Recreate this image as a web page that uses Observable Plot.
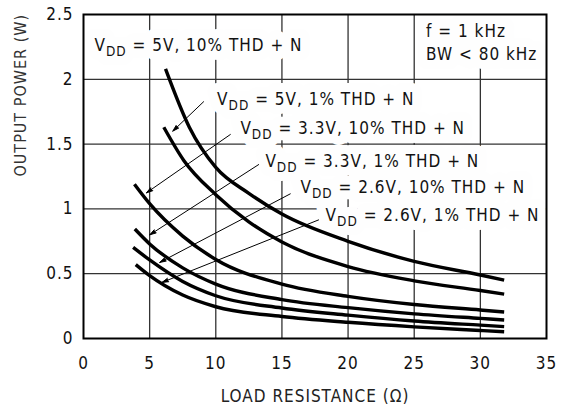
<!DOCTYPE html>
<html>
<head>
<meta charset="utf-8">
<script src="https://cdn.jsdelivr.net/npm/d3@7"></script>
<script src="https://cdn.jsdelivr.net/npm/@observablehq/plot@0.6"></script>
<style>
  body { margin: 0; background: #fff; }
</style>
</head>
<body>
<div id="chart"></div>
<script>
// ---- data ----
const seriesNames = ["5V 10%", "5V 1%", "3.3V 10%", "3.3V 1%", "2.6V 10%", "2.6V 1%"];
const loadA  = [6.2, 8, 10, 12.5, 15, 20, 25, 30, 31.8];
const powerA = [2.08, 1.63, 1.32, 1.12, 0.96, 0.75, 0.595, 0.49, 0.45];
const loadB  = [6.07, 7.58, 10, 12.5, 15, 20, 25, 30, 31.8];
const powerB = [1.63, 1.374, 1.11, 0.9, 0.745, 0.555, 0.445, 0.37, 0.342];
const loadC  = [3.85, 5, 7.5, 10, 15, 20, 25, 30, 31.8];
const powerC = [1.19, 1.04, 0.79, 0.61, 0.42, 0.325, 0.262, 0.22, 0.205];
const loadD  = [3.88, 5, 7.5, 10, 15, 20, 25, 30, 31.8];
const powerD = [0.845, 0.73, 0.545, 0.42, 0.30, 0.238, 0.19, 0.155, 0.143];
const loadE  = [3.75, 5, 7.5, 10, 15, 20, 25, 30, 31.8];
const powerE = [0.703, 0.606, 0.44, 0.33, 0.235, 0.18, 0.135, 0.103, 0.092];
const loadF  = [3.95, 5, 7.5, 10, 15, 20, 25, 30, 31.8];
const powerF = [0.57, 0.485, 0.335, 0.245, 0.17, 0.125, 0.09, 0.062, 0.052];

const xTicks = [0, 5, 10, 15, 20, 25, 30, 35];
const yTicks = [0, 0.5, 1, 1.5, 2, 2.5];
const xGrid = [5, 10, 15, 20, 25, 30];
const yGrid = [0.5, 1, 1.5, 2];
const xLabel = "LOAD RESISTANCE (Ω)";
const yLabel = "OUTPUT POWER (W)";

// curve labels (anchored at start / baseline, data units)
const labelText = [
  "VDD = 5V, 10% THD + N",
  "VDD = 5V, 1% THD + N",
  "VDD = 3.3V, 10% THD + N",
  "VDD = 3.3V, 1% THD + N",
  "VDD = 2.6V, 10% THD + N",
  "VDD = 2.6V, 1% THD + N"
];
const labelX = [0.83, 10.1, 11.86, 13.75, 16.4, 18.3];
const labelY = [2.22, 1.80, 1.58, 1.32, 1.12, 0.91];

// pointer arrows from labels to curves
const arrowX1 = [9.08, 11.1, 13.24, 15.63, 17.77];
const arrowY1 = [1.827, 1.574, 1.342, 1.116, 0.915];
const arrowX2 = [6.75, 4.76, 5.01, 5.76, 5.94];
const arrowY2 = [1.60, 1.124, 0.80, 0.587, 0.433];

// conditions note
const noteText = ["f = 1 kHz\nBW < 80 kHz"];
const noteX = [25.9];
const noteY = [2.146];

// ---- build table ----
const loads = [loadA, loadB, loadC, loadD, loadE, loadF];
const powers = [powerA, powerB, powerC, powerD, powerE, powerF];
const rows = seriesNames.flatMap((s, k) =>
  loads[k].map((r, i) => ({series: s, load: r, power: powers[k][i]})));
const labels = labelText.map((t, i) => ({text: t, x: labelX[i], y: labelY[i]}));

const FONT = "'DejaVu Sans Condensed', 'DejaVu Sans', sans-serif";
const INK = "#111";
const HALO = "#fefefe";

const plot = Plot.plot({
  width: 561, height: 408,
  marginLeft: 83, marginRight: 15, marginTop: 14, marginBottom: 70,
  style: {fontFamily: FONT, fontSize: "17px", letterSpacing: "1px", color: INK, background: "#fff"},
  x: {domain: [0, 35]},
  y: {domain: [0, 2.5]},
  marks: [
    Plot.ruleX(xGrid, {stroke: "#333", strokeWidth: 1.3}),
    Plot.ruleY(yGrid, {stroke: "#333", strokeWidth: 1.3}),
    // white halos behind the labels hide the grid, as in the reference
    Plot.text(labels, {x: "x", y: "y", text: "text", textAnchor: "start",
      lineAnchor: "bottom", fill: HALO, stroke: HALO, strokeWidth: 18, strokeLinejoin: "round"}),
    Plot.text(noteText, {x: noteX, y: noteY, text: d => d, textAnchor: "start",
      lineAnchor: "bottom", lineHeight: 1.35, fill: HALO, stroke: HALO, strokeWidth: 18, strokeLinejoin: "round"}),
    Plot.line(rows, {x: "load", y: "power", z: "series", stroke: "#000",
      strokeWidth: 3.4, curve: "monotone-x", strokeLinecap: "butt"}),
    Plot.arrow(arrowX1, {x1: arrowX1, y1: arrowY1, x2: arrowX2, y2: arrowY2,
      stroke: "#000", fill: "#000", strokeWidth: 1, headLength: 10, headAngle: 32}),
    Plot.text(labels, {x: "x", y: "y", text: "text", textAnchor: "start",
      lineAnchor: "bottom", fill: "#121212"}),
    Plot.text(noteText, {x: noteX, y: noteY, text: d => d, textAnchor: "start",
      lineAnchor: "bottom", lineHeight: 1.35, fill: "#131313"}),
    Plot.frame({stroke: "#000", strokeWidth: 2}),
    Plot.axisX({ticks: xTicks, tickSize: 0, tickPadding: 18, tickFormat: d => `${d}`, label: null, fill: INK}),
    Plot.axisY({ticks: yTicks, tickSize: 0, tickPadding: 10, tickFormat: d => `${d}`, label: null, fill: INK}),
    Plot.text([xLabel], {frameAnchor: "bottom", dy: 58, lineAnchor: "middle", fill: "#222"}),
    Plot.text([yLabel], {frameAnchor: "left", dx: -63, rotate: -90, lineAnchor: "middle", fontSize: 16, fill: "#333"})
  ]
});

// subscript "DD" in the V_DD labels (done before the SVG is placed in the page)
try {
  Array.from(plot.children)
    .filter(c => c.getAttribute("fill") === "#121212" || (c.getAttribute("fill") === HALO && c.getAttribute("stroke-width") === "18" && c.querySelector("text") && c.querySelector("text").textContent.startsWith("VDD")))
    .forEach(g => {
      g.querySelectorAll("text").forEach(el => {
        const t = el.textContent;
        if (!t.startsWith("VDD")) return;
        const rest = t.slice(3);
        el.textContent = "";
        const s = d3.select(el);
        s.append("tspan").text("V");
        s.append("tspan").attr("font-size", "13.5px").attr("dy", 5).text("DD");
        s.append("tspan").attr("dy", -5).text(rest);
      });
    });
} catch (e) { /* keep plain labels if anything fails */ }

document.getElementById("chart").append(plot);
</script>
</body>
</html>
